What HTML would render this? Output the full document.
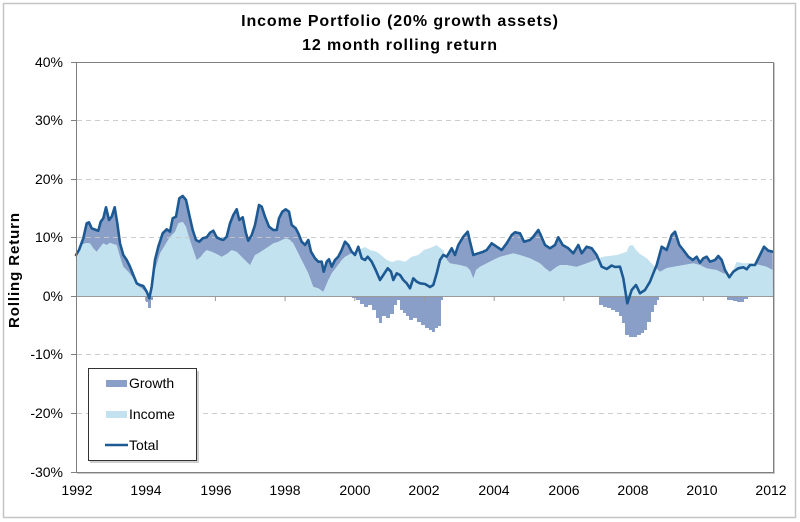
<!DOCTYPE html>
<html>
<head>
<meta charset="utf-8">
<style>
html,body{margin:0;padding:0;background:#fff;}
svg{display:block;}
text{font-family:"Liberation Sans",Arial,sans-serif;}
</style>
</head>
<body>
<svg width="800" height="522" viewBox="0 0 800 522" xmlns="http://www.w3.org/2000/svg">
<rect x="0" y="0" width="800" height="522" fill="#fff"/>
<rect x="3.5" y="3.5" width="792" height="514" fill="#fff" stroke="#c4c4c4" stroke-width="1.5"/>

<text x="400" y="26" text-anchor="middle" font-size="16" font-weight="bold" letter-spacing="0.9" fill="#000">Income Portfolio (20% growth assets)</text>
<text x="400" y="50" text-anchor="middle" font-size="16" font-weight="bold" letter-spacing="0.9" fill="#000">12 month rolling return</text>

<text transform="translate(19,270) rotate(-90)" text-anchor="middle" font-size="15" font-weight="bold" letter-spacing="0.9" fill="#000">Rolling Return</text>

<!-- growth (dark) area under total line -->
<polygon fill="#8a9fc7" points="76,296 76,255 79,250 83.3,238.3 86.7,223.3 89,222.3 91.7,228.3 96,230 98.3,230.7 100.7,221.7 103.3,218.3 106,207.3 109,220 111.7,216.7 114.7,207.3 117.3,223.3 120,243.3 123.3,255 126.7,260 130,266.7 133.3,275 136.7,283.3 140,285 143.3,286 146.7,291.7 149.3,298.3 151.7,286.7 155,260 158.3,246.7 162.7,233.3 166.7,229.3 170,231.7 172.7,218.3 176,216.7 179.3,198.3 182.7,196 186,200 189.3,215 192.7,230 196,240 199.3,241.7 202.7,238.3 206.7,237.3 210,232.7 213.3,230.7 216.7,237.3 220,239 223.3,240 226.7,236.7 230,223.3 233.3,215 236.7,209.3 239.3,220 242.7,217.3 246,233.3 248.3,240.7 251.7,235 255,225 259,205 261.7,206.7 265,216.7 269,226.7 273.3,230 276.7,230 279,218.3 282.3,211.7 285.7,209.3 289,211.7 291.7,225 295.7,228.3 298.3,233.3 301.7,241.7 305,245 308.3,240 311,251.7 315,258.3 318.3,261.7 321.7,261.7 323.7,271.7 326.7,261.7 329,259.3 331.7,266.7 335,260 338.3,256.7 341.7,250 345,241.7 348.3,245 351.7,251.7 355,255 358.3,246.7 361.7,258.3 365,260 367.7,256.7 371.7,261.7 375.7,270 380,280 383.3,275 387.7,268.3 391,271.7 393.3,280 396.7,273.3 400,275 403.3,280 406.7,283.3 410,288.3 413.3,278.3 416.7,281.7 420,283.3 425,284 430,287 433.3,285 436.7,273.3 440,260 443.3,255 446.7,256.7 451.7,248.3 455,255 458.3,245 463.3,236.7 467.7,231.7 470,241.7 473.3,255 478.3,253.3 483.3,251.7 486.7,250 491.7,243.3 496.7,246.7 501.7,250 506.7,243.3 511.7,235 515,232.3 520,233.3 524,241.7 530,240 533.3,236.7 538.3,230 540.7,235 545,245 550,248.3 555,245 558.3,237.3 562.7,245 568.3,248.3 573.3,253.3 578.3,245 581.7,253.3 586.7,246.7 591.7,248.3 596.7,255 601.7,266.7 606.7,269 611.7,265.5 615,267 620,266.7 623.3,278.3 627.3,303.3 631.7,290 636,285 640,293.3 645,290 650,281.7 653.3,273.3 656.7,265 661.7,246.7 666.7,250 671.7,235 675,231.7 679.3,245 683.3,250 688.3,256.7 692.7,260 696.7,256.7 700,262.7 703.3,258.3 706.7,256.7 710,261.7 715,260 718.3,256 721.7,260 725,270 729.3,277.3 733.3,271.7 738.3,268.3 743.3,267.3 746.7,269.3 750,265 755,265 760,255 764,246.7 768.3,250.7 772.7,251.7 773,296"/>

<!-- income (light) area -->
<polygon fill="#c3e2ef" points="76,296 76,255 80,248 83,244 86,243 90,243.3 93.3,248.3 96.7,251.7 100,247.3 103.3,243.3 106.7,245 110,242.7 113.3,244 116.7,245 120,256.7 123.3,266.7 128.3,271.7 133.3,278.3 136.7,285 141.7,288.3 146.7,293.3 149.3,296 152,290 155,270 160,253.3 165,245 170,236.7 175,231.7 178.3,223.3 182.7,221.7 186,226.7 189.3,238.3 193.3,250 196.7,260 200.7,256.7 203.3,253.3 206.7,250 211.7,251.7 216.7,254 221.7,256.7 226.7,254 231.7,250 236.7,251.7 241.7,256.7 246.7,261.7 250,265 255,255 258.3,253.3 263.3,250 268.3,246.7 273.3,243.3 278.3,241.7 283.3,239.3 286.7,238.3 290,240 293.3,243.3 296.7,250 300,256.7 303.3,263.3 308.3,273.3 313.3,286.7 318.3,288.3 323.3,291.7 328.3,280 331.7,273.3 336.7,266.7 341.7,260 345,256.7 348.3,255 353.3,252 358,250 365,247 370,250 376.7,251.7 381,255 386.7,260 392,262 398,260 405,261.7 411.7,256.7 418,255 424,250 430,248 436.7,245 440,248 443.3,250 447,260 450,263.3 460,265 466.7,266.7 470,270 473.3,278.3 476,270 480,266.7 486.7,263.3 493,260 500,256.7 506.7,255 513.3,253.3 520,255 530,258.3 540,263.3 545,268 550,271.7 556.7,266.7 560,265 566.7,265 576.7,266.7 586.7,263.3 595,260 603,256.7 616.7,255 623,253 626.7,251.7 629,246 632.7,245 636,250 640,254 646.7,258.3 653,265 660,271.7 666.7,268 673.3,266.7 683.3,265 693.3,263.3 700,265 706.7,268.3 716.7,270 723.3,273.3 731.7,275 734,268 736.7,261.7 743.3,263.3 750,263 760,265 766.7,266.7 772.7,270 773,296"/>

<!-- negative growth bars -->
<g fill="#8a9fc7">
<polygon points="146,296 146,302 148,302 148,308 151,308 151,300 153,300 153,296"/>
<polygon points="352,296 352,298 356,298 356,300 360,300 360,304 364,304 364,307 368,307 368,305 372,305 372,310 376,310 376,318 379,318 379,323 382,323 382,316 386,316 386,318 390,318 390,314 394,314 394,305 397,305 397,300 400,300 400,310 403,310 403,313 406,313 406,316 409,316 409,320 413,320 413,318 417,318 417,322 421,322 421,325 425,325 425,328 429,328 429,330 432,330 432,332 435,332 435,328 438,328 438,326 441,326 441,300 443,300 443,296"/>
<polygon points="599,296 599,305 603,305 603,307 607,307 607,308 611,308 611,310 615,310 615,312 619,312 619,316 622,316 622,323 625,323 625,335 629,335 629,337 633,337 633,337 637,337 637,335 641,335 641,333 644,333 644,330 647,330 647,322 651,322 651,312 654,312 654,305 657,305 657,300 659,300 659,296"/>
<polygon points="727,296 727,300 733,300 733,301 737,301 737,302 744,302 744,299 748,299 748,296"/>
</g>

<!-- gridlines -->
<g stroke="#c8c8c8" stroke-width="1" stroke-dasharray="5,4" opacity="0.9">
<line x1="77" y1="120.5" x2="772" y2="120.5"/>
<line x1="77" y1="179.5" x2="772" y2="179.5"/>
<line x1="77" y1="237.5" x2="772" y2="237.5"/>
<line x1="77" y1="354.5" x2="772" y2="354.5"/>
<line x1="77" y1="413.5" x2="772" y2="413.5"/>
</g>

<!-- zero axis with ticks -->
<g stroke="#9a9a9a" stroke-width="1">
<line x1="76" y1="296.5" x2="773" y2="296.5"/>
<line x1="145.7" y1="296" x2="145.7" y2="301"/>
<line x1="215.4" y1="296" x2="215.4" y2="301"/>
<line x1="285.1" y1="296" x2="285.1" y2="301"/>
<line x1="354.8" y1="296" x2="354.8" y2="301"/>
<line x1="424.5" y1="296" x2="424.5" y2="301"/>
<line x1="494.2" y1="296" x2="494.2" y2="301"/>
<line x1="563.9" y1="296" x2="563.9" y2="301"/>
<line x1="633.6" y1="296" x2="633.6" y2="301"/>
<line x1="703.3" y1="296" x2="703.3" y2="301"/>
</g>

<!-- total line -->
<polyline fill="none" stroke="#1d5a93" stroke-width="2.6" stroke-linejoin="round" stroke-linecap="round" points="76,255 79,250 83.3,238.3 86.7,223.3 89,222.3 91.7,228.3 96,230 98.3,230.7 100.7,221.7 103.3,218.3 106,207.3 109,220 111.7,216.7 114.7,207.3 117.3,223.3 120,243.3 123.3,255 126.7,260 130,266.7 133.3,275 136.7,283.3 140,285 143.3,286 146.7,291.7 149.3,298.3 151.7,286.7 155,260 158.3,246.7 162.7,233.3 166.7,229.3 170,231.7 172.7,218.3 176,216.7 179.3,198.3 182.7,196 186,200 189.3,215 192.7,230 196,240 199.3,241.7 202.7,238.3 206.7,237.3 210,232.7 213.3,230.7 216.7,237.3 220,239 223.3,240 226.7,236.7 230,223.3 233.3,215 236.7,209.3 239.3,220 242.7,217.3 246,233.3 248.3,240.7 251.7,235 255,225 259,205 261.7,206.7 265,216.7 269,226.7 273.3,230 276.7,230 279,218.3 282.3,211.7 285.7,209.3 289,211.7 291.7,225 295.7,228.3 298.3,233.3 301.7,241.7 305,245 308.3,240 311,251.7 315,258.3 318.3,261.7 321.7,261.7 323.7,271.7 326.7,261.7 329,259.3 331.7,266.7 335,260 338.3,256.7 341.7,250 345,241.7 348.3,245 351.7,251.7 355,255 358.3,246.7 361.7,258.3 365,260 367.7,256.7 371.7,261.7 375.7,270 380,280 383.3,275 387.7,268.3 391,271.7 393.3,280 396.7,273.3 400,275 403.3,280 406.7,283.3 410,288.3 413.3,278.3 416.7,281.7 420,283.3 425,284 430,287 433.3,285 436.7,273.3 440,260 443.3,255 446.7,256.7 451.7,248.3 455,255 458.3,245 463.3,236.7 467.7,231.7 470,241.7 473.3,255 478.3,253.3 483.3,251.7 486.7,250 491.7,243.3 496.7,246.7 501.7,250 506.7,243.3 511.7,235 515,232.3 520,233.3 524,241.7 530,240 533.3,236.7 538.3,230 540.7,235 545,245 550,248.3 555,245 558.3,237.3 562.7,245 568.3,248.3 573.3,253.3 578.3,245 581.7,253.3 586.7,246.7 591.7,248.3 596.7,255 601.7,266.7 606.7,269 611.7,265.5 615,267 620,266.7 623.3,278.3 627.3,303.3 631.7,290 636,285 640,293.3 645,290 650,281.7 653.3,273.3 656.7,265 661.7,246.7 666.7,250 671.7,235 675,231.7 679.3,245 683.3,250 688.3,256.7 692.7,260 696.7,256.7 700,262.7 703.3,258.3 706.7,256.7 710,261.7 715,260 718.3,256 721.7,260 725,270 729.3,277.3 733.3,271.7 738.3,268.3 743.3,267.3 746.7,269.3 750,265 755,265 760,255 764,246.7 768.3,250.7 772.7,251.7"/>

<!-- plot border -->
<line x1="774.5" y1="63" x2="774.5" y2="473" stroke="#c8c8c8" stroke-width="1"/>
<line x1="77" y1="473.5" x2="775" y2="473.5" stroke="#c8c8c8" stroke-width="1"/>
<rect x="76.5" y="62.5" width="697" height="410" fill="none" stroke="#7f7f7f" stroke-width="1"/>

<!-- y ticks -->
<g stroke="#7f7f7f" stroke-width="1">
<line x1="71" y1="62.5" x2="76" y2="62.5"/>
<line x1="71" y1="120.5" x2="76" y2="120.5"/>
<line x1="71" y1="179.5" x2="76" y2="179.5"/>
<line x1="71" y1="237.5" x2="76" y2="237.5"/>
<line x1="71" y1="296.5" x2="76" y2="296.5"/>
<line x1="71" y1="354.5" x2="76" y2="354.5"/>
<line x1="71" y1="413.5" x2="76" y2="413.5"/>
<line x1="71" y1="472.5" x2="76" y2="472.5"/>
</g>

<g font-size="14" fill="#000" text-anchor="end">
<text x="63" y="67">40%</text>
<text x="63" y="125">30%</text>
<text x="63" y="184">20%</text>
<text x="63" y="242">10%</text>
<text x="63" y="301">0%</text>
<text x="63" y="359">-10%</text>
<text x="63" y="418">-20%</text>
<text x="63" y="477">-30%</text>
</g>

<g font-size="14" fill="#000" text-anchor="middle">
<text x="77" y="495">1992</text>
<text x="146" y="495">1994</text>
<text x="216" y="495">1996</text>
<text x="285" y="495">1998</text>
<text x="355" y="495">2000</text>
<text x="424" y="495">2002</text>
<text x="494" y="495">2004</text>
<text x="564" y="495">2006</text>
<text x="633" y="495">2008</text>
<text x="702" y="495">2010</text>
<text x="771" y="495">2012</text>
</g>

<!-- legend -->
<rect x="90" y="371" width="109" height="92" fill="#cfcfcf"/>
<rect x="88.5" y="368.5" width="108" height="92" fill="#fff" stroke="#333" stroke-width="1"/>
<rect x="106" y="380" width="21" height="7" fill="#8a9fc7"/>
<rect x="106" y="411" width="21" height="7" fill="#c3e2ef"/>
<line x1="105" y1="445" x2="128" y2="445" stroke="#1d5a93" stroke-width="2.5"/>
<g font-size="14" fill="#000">
<text x="129" y="388">Growth</text>
<text x="129" y="419">Income</text>
<text x="129" y="450">Total</text>
</g>
</svg>
</body>
</html>
